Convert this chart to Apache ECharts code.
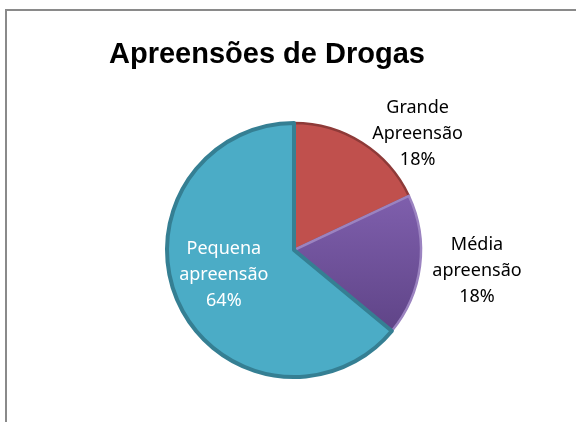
<!DOCTYPE html>
<html>
<head>
<meta charset="utf-8">
<script src="https://cdn.jsdelivr.net/npm/echarts@6/dist/echarts.min.js"></script>
<style>
  html, body { margin: 0; padding: 0; background: #fff; }
  #main { width: 576px; height: 422px; }
</style>
</head>
<body>
<div id="main"></div>
<script>
// dados do gráfico
var categorias = ['Grande\nApreensão', 'Média\napreensão', 'Pequena\napreensão'];
var valores = [18, 18, 64];
var cores = ['#C0504D', '#8064A2', '#4BACC6'];
var bordas = ['#8E3A38', '#9B83C0', '#357F93'];

var chart = echarts.init(document.getElementById('main'));

// deslocamento dos rótulos (a partir da posição "inside")
var desloc = [[88, -60], [117, 13], [-10, -3]];

var dados = categorias.map(function (nome, i) {
  var cor = cores[i];
  if (i === 1) {
    cor = new echarts.graphic.LinearGradient(0, 0, 0, 1, [
      { offset: 0, color: '#7F5FAD' },
      { offset: 1, color: '#5F4487' }
    ]);
  }
  return {
    name: nome,
    value: valores[i],
    itemStyle: { color: cor, borderColor: bordas[i], borderWidth: i === 2 ? 4 : 2.5 },
    label: { color: i === 2 ? '#ffffff' : '#000000' }
  };
});

var option = {
  animation: false,
  backgroundColor: '#ffffff',
  title: {
    text: 'Apreensões de Drogas',
    left: 104,
    top: 35,
    textStyle: {
      fontFamily: 'Liberation Sans, Arial',
      fontWeight: 'bold',
      fontSize: 29,
      color: '#000'
    }
  },
  graphic: [{
    type: 'rect',
    shape: { x: 6, y: 10, width: 620, height: 520 },
    style: { fill: null, stroke: '#8a8a8a', lineWidth: 2 },
    silent: true
  }],
  series: [{
    type: 'pie',
    center: [294, 250],
    radius: [0, 127],
    startAngle: 90,
    clockwise: true,
    label: {
      show: true,
      position: 'inside',
      formatter: function (p) { return p.name + '\n' + Math.round(p.percent) + '%'; },
      fontFamily: 'Noto Sans',
      fontSize: 18,
      lineHeight: 26,
      align: 'center'
    },
    labelLine: { show: false },
    labelLayout: function (p) {
      return { dx: desloc[p.dataIndex][0], dy: desloc[p.dataIndex][1] };
    },
    data: dados
  }]
};

chart.setOption(option);
</script>
</body>
</html>
